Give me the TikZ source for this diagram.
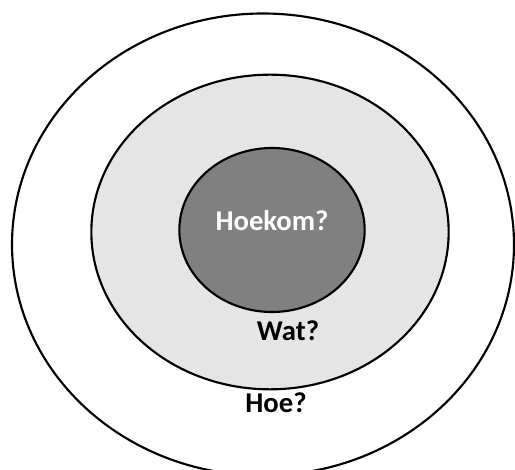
\documentclass[tikz,border=0pt]{standalone}
\usepackage{fontspec}
\setmainfont{Carlito}
\usepackage{tikz}
\usetikzlibrary{shapes.geometric}

\begin{document}
\begin{tikzpicture}[x=0.75pt,y=-0.75pt,
  ring/.style={ellipse,draw=black,line width=1.6pt,inner sep=0pt},
  word/.style={font=\bfseries\fontsize{21.5}{25}\selectfont,inner sep=0pt}]
\useasboundingbox (0,0) rectangle (515,470);
%\draw[gray!30] (0,0) grid[step=50] (515,470);
\node[ring,fill=white,minimum width=376.5pt,minimum height=346.5pt] (hoe) at (263,244.5) {};
\node[ring,fill=black!10,minimum width=268pt,minimum height=236pt] (wat) at (270,232) {};
\node[ring,fill=black!50,minimum width=139pt,minimum height=123pt] (hoekom) at (272,230) {};

\node[word,text=white] (hoekomtext) at (272,221) {Hoekom?};
\node[word] (wattext) at (288,331) {Wat?};
\node[word] (hoetext) at (276,403) {Hoe?};
\end{tikzpicture}
\end{document}
